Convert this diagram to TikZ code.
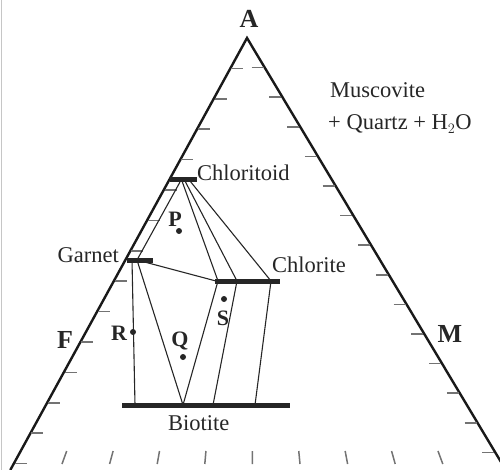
\documentclass[tikz,border=0pt]{standalone}
\usepackage{fontspec}
\setmainfont{Liberation Serif}
\begin{document}
\begin{tikzpicture}[x=1pt,y=-1pt,
  side/.style={line width=2.4pt, black!90},
  tie/.style={line width=1.1pt, black!85},
  bar/.style={line width=5pt, black!85},
  tickmark/.style={line width=1.5pt, black!55},
  lbl/.style={inner sep=0pt, font=\fontsize{22.5}{26}\selectfont, text=black!85},
  corner/.style={inner sep=0pt, font=\fontsize{26}{30}\selectfont\bfseries, text=black!85},
  ptlbl/.style={inner sep=0pt, font=\fontsize{22}{26}\selectfont\bfseries, text=black!85},
  dotst/.style={circle, fill=black!85, inner sep=0pt, minimum size=6pt}]
\useasboundingbox (0,0) rectangle (500,470);
\clip (0,0) rectangle (500,470);
\draw[gray!45, line width=1pt] (1,0) -- (1,470);
% triangle sides
\coordinate (A) at (247,38);
\coordinate (Fend) at (10.3,470);
\coordinate (Mend) at (505.8,470);
\draw[side, line join=miter] (Fend) -- (A) -- (Mend);
% ticks
\foreach \k in {1,...,14} {
  \pgfmathsetmacro\yy{38+30.4*\k}
  \pgfmathsetmacro\xx{247-0.548*(\yy-38)}
  \draw[tickmark] (\xx+1,\yy) -- (\xx+13,\yy);
}
\foreach \k in {1,...,14} {
  \pgfmathsetmacro\yy{38+29.6*\k}
  \pgfmathsetmacro\xx{247+0.599*(\yy-38)}
  \draw[tickmark] (\xx-13,\yy) -- (\xx-1,\yy);
}
\foreach \k in {0,...,8} {
  \pgfmathsetmacro\xx{62+47.6*\k}
  \pgfmathsetmacro\xt{\xx+(250-\xx)*0.025}
  \draw[tickmark] (\xx,464) -- (\xt,451);
}
% tie-line end points
\coordinate (ctd1) at (180,182);
\coordinate (ctd2) at (182,181);
\coordinate (ctd3) at (185,181);
\coordinate (ctd4) at (190,181);
\coordinate (grt1) at (137,260);
\coordinate (grt2) at (132,260);
\coordinate (chl1) at (218,281);
\coordinate (chl2) at (237,281);
\coordinate (chl3) at (271,281);
\coordinate (chl0) at (216,281);
\coordinate (bt1) at (135,405);
\coordinate (bt2) at (183,405);
\coordinate (bt3) at (213,405);
\coordinate (bt4) at (255,405);
\draw[tie] (ctd1) -- (grt1);
\draw[tie] (ctd2) -- (chl1);
\draw[tie] (ctd3) -- (chl2);
\draw[tie] (ctd4) -- (chl3);
\draw[tie] (grt1) -- (chl0);
\draw[tie] (grt2) -- (bt1);
\draw[tie] (grt1) -- (bt2);
\draw[tie] (chl1) -- (bt2);
\draw[tie] (chl2) -- (bt3);
\draw[tie] (chl3) -- (bt4);
% phase bars
\coordinate (ctdL) at (170,180); \coordinate (ctdR) at (197,180);
\coordinate (grtL) at (127,260); \coordinate (grtR) at (153,260);
\coordinate (chlL) at (215,281); \coordinate (chlR) at (280,281);
\coordinate (btL) at (122,405);  \coordinate (btR) at (290,405);
\draw[bar] (ctdL) -- (ctdR);
\draw[bar] (grtL) -- (grtR);
\draw[bar] (chlL) -- (chlR);
\draw[bar] (btL) -- (btR);
% labels
\node[corner, anchor=base] (lA) at (249,28) {A};
\node[corner, anchor=base] (lF) at (65,348) {F};
\node[corner, anchor=base] (lM) at (450,342) {M};
\node[lbl, anchor=base west] (lctd) at (197,181) {Chloritoid};
\node[lbl, anchor=base east] (lgrt) at (119,262) {Garnet};
\node[lbl, anchor=base west] (lchl) at (272,272) {Chlorite};
\node[lbl, anchor=base west] (lbt) at (168,430) {Biotite};
\node[lbl, anchor=base west] (lmus) at (330,98) {Muscovite};
\node[lbl, anchor=base west] (lqtz) at (328,130) {+ Quartz + H$_2$O};
% points
\node[dotst] (dP) at (179,231) {};
\node[dotst] (dQ) at (183,357) {};
\node[dotst] (dR) at (133,332) {};
\node[dotst] (dS) at (224,299) {};
\node[ptlbl, anchor=base] (lP) at (175,226) {P};
\node[ptlbl, anchor=base] (lQ) at (180,346) {Q};
\node[ptlbl, anchor=base] (lR) at (119,340) {R};
\node[ptlbl, anchor=base] (lS) at (223,325) {S};
\end{tikzpicture}
\end{document}
